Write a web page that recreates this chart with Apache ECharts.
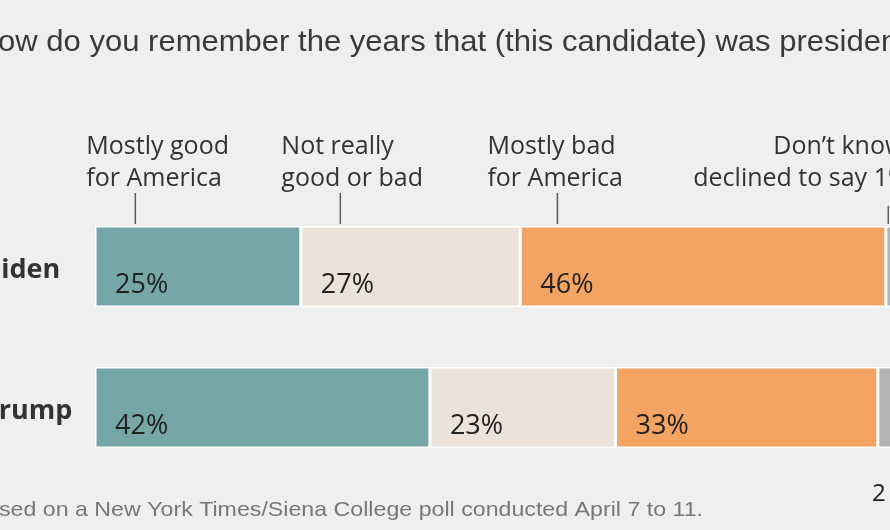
<!DOCTYPE html>
<html><head><meta charset="utf-8">
<script src="https://cdn.jsdelivr.net/npm/echarts@6/dist/echarts.min.js"></script>
<style>html,body{margin:0;padding:0;background:#efefef;overflow:hidden}#c{width:890px;height:530px}</style>
</head><body><div id="c"></div>
<script>
// ---- data ----
const candidates = ['Biden', 'Trump'];
const responseNames = ['Mostly good for America', 'Not really good or bad', 'Mostly bad for America', "Don't know/declined to say"];
const mostlyGood = [25.5, 41.5];
const notReally = [27.2, 23.0];
const mostlyBad = [45.3, 32.5];
const dontKnow = [2.0, 3.0];
const mostlyGoodLabels = ['25%', '42%'];
const notReallyLabels = ['27%', '23%'];
const mostlyBadLabels = ['46%', '33%'];
const dontKnowLabels = ['', ''];
const annotationLines = [['Mostly good', 'for America'], ['Not really', 'good or bad'], ['Mostly bad', 'for America'], ["Don\u2019t know/", 'declined to say 1%']];
const annotationAnchor = [5, 30.4, 57.3, 98.3];
const titleText = 'How do you remember the years that (this candidate) was president?';
const noteText = 'Based on a New York Times/Siena College poll conducted April 7 to 11.';
const cornerText = '2';

// ---- layout ----
const colors = ['#76a6a7', '#ebe3d9', '#f4a462', '#b3b3b3'];
const annotationDx = [[-49, -49], [-59, -59], [-70, -70], [-115, -195]];

const chart = echarts.init(document.getElementById('c'));
const values = [mostlyGood, notReally, mostlyBad, dontKnow];
const labels = [mostlyGoodLabels, notReallyLabels, mostlyBadLabels, dontKnowLabels];

const series = values.map((v, i) => ({
  type: 'bar', name: responseNames[i], stack: 'all', barWidth: 81,
  data: v,
  itemStyle: { color: colors[i], borderColor: '#ffffff', borderWidth: 1.5 },
  label: {
    show: true, position: [20, 59], align: 'left', verticalAlign: 'middle',
    fontFamily: 'Open Sans', fontSize: 27, color: '#222',
    formatter: p => labels[i][p.dataIndex]
  },
  emphasis: { disabled: true },
  animation: false
}));

chart.setOption({
  backgroundColor: '#efefef',
  animation: false,
  grid: { left: 95, right: -12, top: 196, bottom: 52, containLabel: false, outerBoundsMode: 'none' },
  xAxis: { type: 'value', min: 0, max: 100, show: false },
  yAxis: {
    type: 'category', data: candidates, inverse: true,
    axisLine: { show: false }, axisTick: { show: false },
    axisLabel: { align: 'left', verticalAlign: 'top', lineHeight: 8, margin: 112, fontFamily: 'Open Sans', fontWeight: 'bold', fontSize: 27, color: '#333' }
  },
  series
});

// measure helper for fitting text widths
const cv = document.createElement('canvas').getContext('2d');
function measure(t, font) { cv.font = font; return cv.measureText(t).width; }

const g = [];
// title
{
  const font = '29px "Liberation Sans"';
  const w = measure('ow do you remember the years that (this candidate) was preside', font);
  const sx = 883 / w;
  const wH = measure('H', font) * sx;
  g.push({ type: 'text', x: -2 - wH, y: 43, scaleX: sx,
    style: { text: titleText, fontFamily: 'Liberation Sans', fontSize: 29, fill: '#3a3a3a', verticalAlign: 'middle' } });
}
// note
{
  const font = '21px "Liberation Sans"';
  const w = measure('sed on a New York Times/Siena College poll conducted April 7 to 11.', font);
  const sx = 704 / w;
  const wB = measure('Ba', font) * sx;
  g.push({ type: 'text', x: -1 - wB, y: 510, scaleX: sx,
    style: { text: noteText, fontFamily: 'Liberation Sans', fontSize: 21, fill: '#777', verticalAlign: 'middle' } });
}
g.push({ type: 'text', x: 872, y: 494, style: { text: cornerText, fontFamily: 'Open Sans', fontSize: 24, fill: '#222', verticalAlign: 'middle' } });

// annotations anchored on the Biden bar via axis scale
annotationAnchor.forEach((v, i) => {
  const px = chart.convertToPixel({ gridIndex: 0 }, [v, candidates[0]])[0];
  const y1 = i === 3 ? 206 : 193;
  g.push({ type: 'line', shape: { x1: px, y1: y1, x2: px, y2: 224 }, style: { stroke: '#5a5a5a', lineWidth: 1.5 } });
  annotationLines[i].forEach((t, j) => {
    g.push({ type: 'text', x: px + annotationDx[i][j], y: 147 + j * 32,
      style: { text: t, fontFamily: 'Open Sans', fontSize: 25, fill: '#333', verticalAlign: 'middle' } });
  });
});
chart.setOption({ graphic: g });
</script></body></html>
